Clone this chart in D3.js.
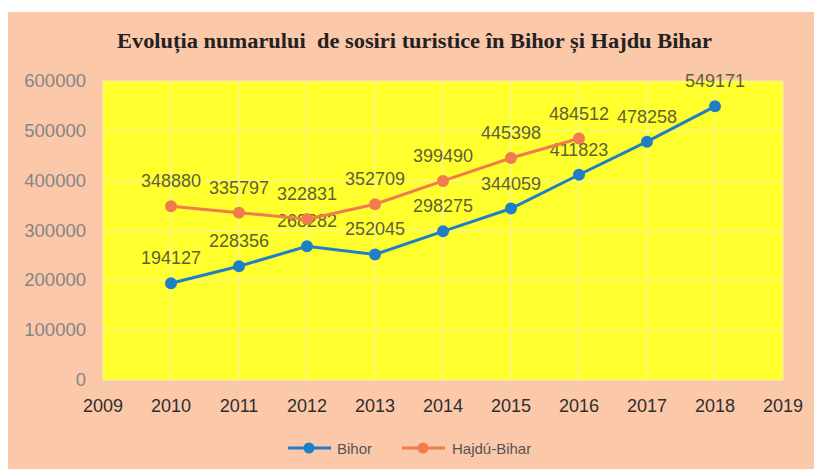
<!DOCTYPE html>
<html>
<head>
<meta charset="utf-8">
<script src="https://cdn.jsdelivr.net/npm/d3@7"></script>
<style>
  html, body { margin: 0; padding: 0; background: #fff; }
  svg { display: block; }
</style>
</head>
<body>
<script>
'use strict';

var years = [2010, 2011, 2012, 2013, 2014, 2015, 2016, 2017, 2018];
var bihor = [194127, 228356, 268282, 252045, 298275, 344059, 411823, 478258, 549171];
var hajduYears = [2010, 2011, 2012, 2013, 2014, 2015, 2016];
var hajdu = [348880, 335797, 322831, 352709, 399490, 445398, 484512];
var xTicks = [2009, 2010, 2011, 2012, 2013, 2014, 2015, 2016, 2017, 2018, 2019];
var yTicks = [0, 100000, 200000, 300000, 400000, 500000, 600000];

var W = 814, H = 469;
var svg = d3.select('body').append('svg').attr('width', W).attr('height', H);

// salmon panel
svg.append('rect').attr('x', 8).attr('y', 12).attr('width', W - 8).attr('height', H - 12)
  .attr('fill', '#fcc8aa');

var x = d3.scaleLinear().domain([2009, 2019]).range([103, 783]);
var y = d3.scaleLinear().domain([0, 600000]).range([380, 81]);

// plot area
svg.append('rect').attr('x', 103).attr('y', 81).attr('width', 680).attr('height', 299)
  .attr('fill', '#ffff2e');

// grid
svg.append('g').selectAll('line').data(yTicks).enter().append('line')
  .attr('x1', 103).attr('x2', 783)
  .attr('y1', function (d) { return y(d); }).attr('y2', function (d) { return y(d); })
  .attr('stroke', '#f4f4b0').attr('stroke-width', 1);
svg.append('g').selectAll('line').data(xTicks).enter().append('line')
  .attr('y1', 81).attr('y2', 380)
  .attr('x1', function (d) { return x(d); }).attr('x2', function (d) { return x(d); })
  .attr('stroke', '#f4f4b0').attr('stroke-width', 1);

// title
svg.append('text').attr('x', 117).attr('y', 48)
  .attr('font-family', 'Liberation Serif, serif').attr('font-weight', 'bold')
  .attr('font-size', 20).attr('fill', '#222')
  .attr('textLength', 595).attr('lengthAdjust', 'spacingAndGlyphs')
  .style('white-space', 'pre')
  .text('Evoluția numarului  de sosiri turistice în Bihor și Hajdu Bihar');

// y axis labels
svg.append('g').selectAll('text').data(yTicks).enter().append('text')
  .attr('x', 86).attr('y', function (d) { return y(d) + 6; })
  .attr('text-anchor', 'end')
  .attr('font-family', 'Liberation Sans, sans-serif').attr('font-size', 18.5)
  .attr('fill', '#858585')
  .text(function (d) { return d; });

// x axis labels
svg.append('g').selectAll('text').data(xTicks).enter().append('text')
  .attr('x', function (d) { return x(d); }).attr('y', 412)
  .attr('text-anchor', 'middle')
  .attr('font-family', 'Liberation Sans, sans-serif').attr('font-size', 18)
  .attr('fill', '#2e2e2e')
  .text(function (d) { return d; });

var series = [
  { name: 'Bihor', xs: years, vals: bihor, color: '#1f7fc6' },
  { name: 'Hajdú-Bihar', xs: hajduYears, vals: hajdu, color: '#f27b4b' }
];

var line = d3.line()
  .x(function (d) { return x(d[0]); })
  .y(function (d) { return y(d[1]); });

series.forEach(function (s) {
  var pts = s.xs.map(function (yr, i) { return [yr, s.vals[i]]; });
  svg.append('path').datum(pts).attr('d', line)
    .attr('fill', 'none').attr('stroke', s.color).attr('stroke-width', 3);
  svg.append('g').selectAll('circle').data(pts).enter().append('circle')
    .attr('cx', function (d) { return x(d[0]); })
    .attr('cy', function (d) { return y(d[1]); })
    .attr('r', 6).attr('fill', s.color);
  svg.append('g').selectAll('text').data(pts).enter().append('text')
    .attr('x', function (d) { return x(d[0]); })
    .attr('y', function (d) { return y(d[1]) - 19; })
    .attr('text-anchor', 'middle')
    .attr('font-family', 'Liberation Sans, sans-serif').attr('font-size', 18)
    .attr('fill', '#5f5f36')
    .text(function (d) { return d[1]; });
});

// legend
var leg = svg.append('g');
[{ s: series[0], x0: 288, tx: 337 }, { s: series[1], x0: 402, tx: 452 }].forEach(function (l) {
  leg.append('line').attr('x1', l.x0).attr('x2', l.x0 + 43).attr('y1', 448).attr('y2', 448)
    .attr('stroke', l.s.color).attr('stroke-width', 3);
  leg.append('circle').attr('cx', l.x0 + 21).attr('cy', 448).attr('r', 5.5).attr('fill', l.s.color);
  leg.append('text').attr('x', l.tx).attr('y', 454)
    .attr('font-family', 'Liberation Sans, sans-serif').attr('font-size', 15)
    .attr('fill', '#555').text(l.s.name);
});
</script>
</body>
</html>
